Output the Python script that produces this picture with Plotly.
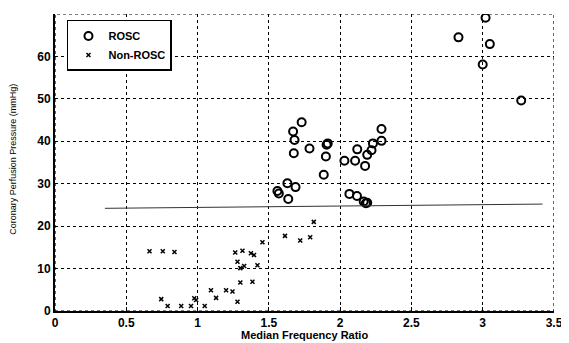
import plotly.graph_objects as go

# ROSC (open circles)
rosc_x = [1.73, 1.67, 1.68, 1.785, 1.675, 1.913, 1.905, 1.90, 1.885, 2.29, 2.29, 2.23,
          2.22, 2.12, 2.19, 2.03, 2.105, 2.175, 1.63, 1.687, 1.57, 1.56, 1.636, 2.065,
          2.118, 2.165, 2.18, 2.19, 3.02, 2.83, 3.05, 3.0, 3.27]
rosc_y = [44.5, 42.3, 40.3, 38.3, 37.2, 39.5, 39.2, 36.4, 32.1, 42.9, 40.1, 39.5,
          37.9, 38.1, 36.8, 35.4, 35.4, 34.2, 30.1, 29.2, 27.7, 28.3, 26.4, 27.6,
          27.1, 25.8, 25.4, 25.5, 69.1, 64.5, 62.9, 58.1, 49.6]

# Non-ROSC (x marks)
non_x = [0.663, 0.756, 0.838, 0.745, 0.79, 0.885, 0.954, 1.05, 0.977, 0.99, 1.094,
         1.13, 1.2, 1.245, 1.28, 1.30, 1.385, 1.264, 1.315, 1.374, 1.396, 1.28, 1.327,
         1.30, 1.42, 1.455, 1.613, 1.72, 1.79, 1.815]
non_y = [14.1, 14.1, 13.9, 2.8, 1.2, 1.2, 1.2, 1.2, 3.0, 2.6, 4.9,
         3.1, 4.9, 4.6, 2.2, 6.7, 6.9, 13.8, 14.2, 13.6, 13.2, 11.6, 10.6,
         10.1, 10.8, 16.2, 17.7, 16.6, 17.4, 21.0]

# threshold line
line_x = [0.35, 3.42]
line_y = [24.2, 25.2]

x_ticks = [0, 0.5, 1, 1.5, 2, 2.5, 3, 3.5]
x_tick_text = ["<b>0</b>", "<b>0.5</b>", "<b>1</b>", "<b>1.5</b>", "<b>2</b>",
               "<b>2.5</b>", "<b>3</b>", "<b>3.5</b>"]
y_ticks = [0, 10, 20, 30, 40, 50, 60, 70]
y_tick_text = ["<b>0</b>", "<b>10</b>", "<b>20</b>", "<b>30</b>", "<b>40</b>",
               "<b>50</b>", "<b>60</b>", "<b>70</b>"]

fig = go.Figure()
fig.add_trace(go.Scatter(x=rosc_x, y=rosc_y, mode="markers", name="<b>ROSC</b>",
                         marker=dict(symbol="circle-open", size=8, color="black",
                                     line=dict(width=2, color="black"))))
fig.add_trace(go.Scatter(x=non_x, y=non_y, mode="markers", name="<b>Non-ROSC</b>",
                         marker=dict(symbol="x-thin-open", size=4, color="black",
                                     line=dict(width=1.5, color="black"))))
fig.add_trace(go.Scatter(x=line_x, y=line_y, mode="lines", showlegend=False,
                         line=dict(color="#333333", width=1)))

# page body adds an 8px offset, so the figure is 8px smaller with 8px less left/top margin
fig.update_layout(
    width=561, height=335,
    margin=dict(l=47, r=11, t=6, b=32),
    paper_bgcolor="white", plot_bgcolor="white",
    font=dict(family="Arial, Liberation Sans", color="black"),
    xaxis=dict(range=[0, 3.5], tickvals=x_ticks, ticktext=x_tick_text,
               showgrid=True, gridcolor="black", griddash="dot", gridwidth=1,
               showline=True, linecolor="black", linewidth=2,
               ticks="inside", ticklen=4, tickcolor="black", zeroline=False,
               tickfont=dict(size=12)),
    yaxis=dict(range=[0, 70], tickvals=y_ticks, ticktext=y_tick_text,
               showgrid=True, gridcolor="black", griddash="dot", gridwidth=1,
               showline=True, linecolor="black", linewidth=2, zeroline=False,
               tickfont=dict(size=12)),
    legend=dict(x=0.024, y=0.98, xanchor="left", yanchor="top",
                bordercolor="black", borderwidth=1.5, bgcolor="white",
                font=dict(size=11)),
    showlegend=True,
)
fig.add_shape(type="rect", xref="x", yref="y", x0=0, x1=3.5, y0=0, y1=70,
              line=dict(color="black", width=1.2, dash="dot"), layer="above")
fig.add_annotation(text="<b>Median Frequency Ratio</b>", xref="paper", yref="paper",
                   x=0.499, y=-0.081, xanchor="center", yanchor="middle",
                   showarrow=False, font=dict(size=11, color="black"))
fig.add_annotation(text="Coronary Perfusion Pressure (mmHg)", xref="paper", yref="paper",
                   x=-0.0855, y=0.51, xanchor="center", yanchor="middle", textangle=-90,
                   showarrow=False, font=dict(size=9, color="black"))

fig.write_html("out.html")
